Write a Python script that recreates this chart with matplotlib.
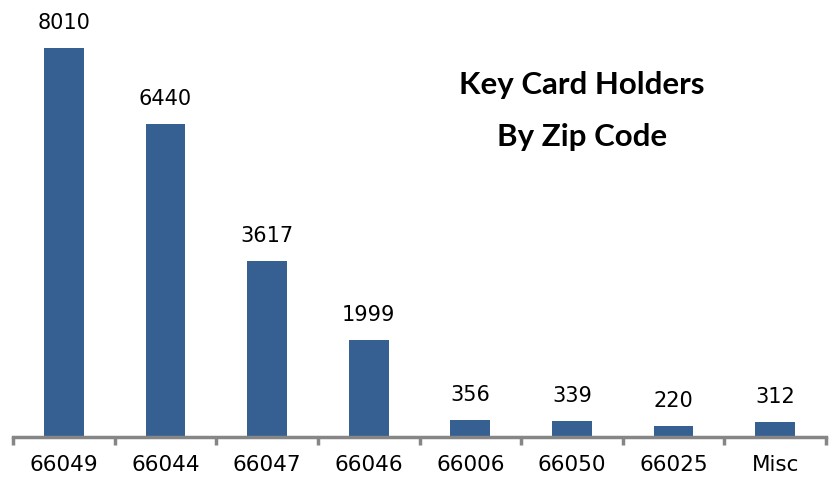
import matplotlib
matplotlib.use("Agg")
import matplotlib.pyplot as plt

categories = ["66049", "66044", "66047", "66046", "66006", "66050", "66025", "Misc"]
values = [8010, 6440, 3617, 1999, 356, 339, 220, 312]

plt.rcParams['font.family'] = ['DejaVu Sans']
title_font = ['Lato', 'DejaVu Sans']

fig = plt.figure(figsize=(8.4, 4.81), dpi=100)
ax = fig.add_axes([13/840, (481-438)/481, (826-13)/840, 438/481])

x = list(range(len(categories)))
bars = ax.bar(x, values, width=0.39, color="#366092", zorder=2)
ax.set_xlim(-0.5, len(categories) - 0.5)
ax.set_ylim(0, 9020)

for xi, v in zip(x, values):
    ax.annotate(str(v), (xi, v), xytext=(0, 11.5), textcoords="offset points",
                ha="center", va="bottom", fontsize=15, color="#000000")

for s in ["top", "right", "left"]:
    ax.spines[s].set_visible(False)
ax.spines["bottom"].set_color("#868686")
ax.spines["bottom"].set_linewidth(2.5)
ax.set_yticks([])

ax.set_xticks([i - 0.5 for i in range(len(categories) + 1)], minor=False)
ax.set_xticklabels([])
ax.tick_params(axis="x", which="major", length=6, width=2.5, color="#868686")
ax.set_xticks(x, minor=True)
ax.set_xticklabels(categories, minor=True)
ax.tick_params(axis="x", which="minor", length=0, pad=12.5, labelsize=15.5)

fig.text(582/840, 1 - 85/481, "Key Card Holders", ha="center", va="center",
         fontsize=22.5, fontweight="bold", family=title_font)
fig.text(582/840, 1 - 137/481, "By Zip Code", ha="center", va="center",
         fontsize=22.5, fontweight="bold", family=title_font)

fig.savefig("out.png", dpi=100)
